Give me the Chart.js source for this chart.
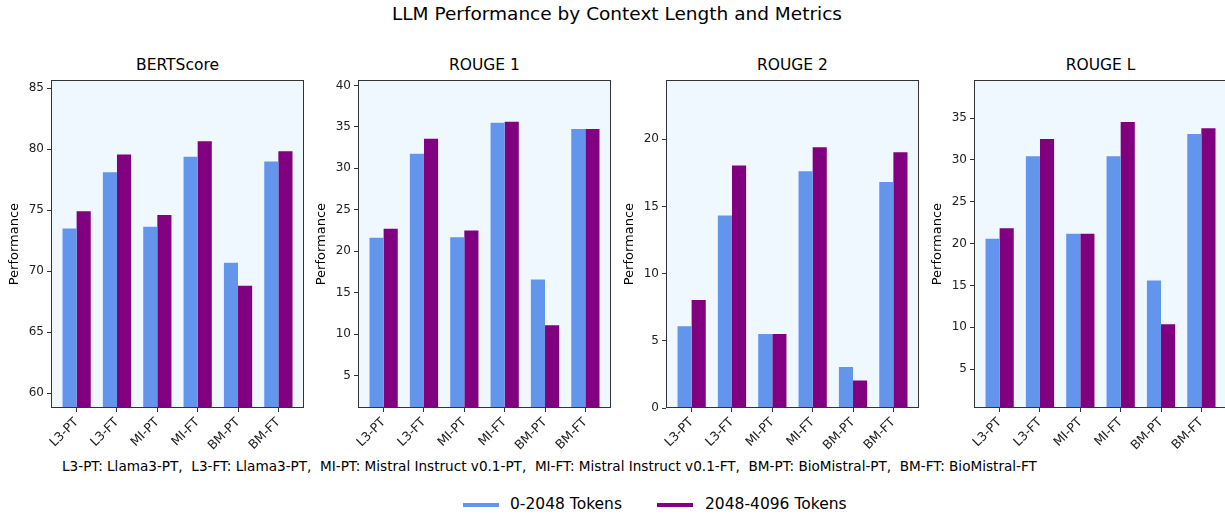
<!DOCTYPE html>
<html>
<head>
<meta charset="utf-8">
<script src="https://cdn.jsdelivr.net/npm/chart.js"></script>
<style>
  body { margin: 0; background: #fff; font-family: "DejaVu Sans", sans-serif; }
  #fig { position: relative; width: 1225px; height: 516px; overflow: hidden; background: #fff; }
  .txt { position: absolute; white-space: pre; color: #000; }
  canvas { position: absolute; }
  .swatch { position: absolute; height: 4px; }
</style>
</head>
<body>
<div id="fig">
  <div class="txt" id="suptitle" style="left:0;width:1234px;text-align:center;top:3px;font-size:18.5px;">LLM Performance by Context Length and Metrics</div>
  <div class="txt" id="footnote" style="left:62px;top:458px;font-size:13.6px;"></div>
  <div class="swatch" style="left:463px;top:503px;width:36px;background:#6495ED;"></div>
  <div class="txt" id="leg0" style="left:510px;top:495px;font-size:15.5px;"></div>
  <div class="swatch" style="left:657px;top:503px;width:36px;background:#800080;"></div>
  <div class="txt" id="leg1" style="left:705px;top:495px;font-size:15.5px;"></div>
</div>
<script>
const categories = ['L3-PT', 'L3-FT', 'MI-PT', 'MI-FT', 'BM-PT', 'BM-FT'];
const seriesNames = ['0-2048 Tokens', '2048-4096 Tokens'];
const metricNames = ['BERTScore', 'ROUGE 1', 'ROUGE 2', 'ROUGE L'];

// values
const bertShort   = [73.5, 78.1, 73.65, 79.37, 70.69, 78.98];
const bertLong    = [74.9, 79.55, 74.6, 80.64, 68.8, 79.83];
const rouge1Short = [21.64, 31.76, 21.7, 35.52, 16.6, 34.76];
const rouge1Long  = [22.72, 33.56, 22.5, 35.64, 11.08, 34.76];
const rouge2Short = [6.08, 14.33, 5.51, 17.63, 3.05, 16.82];
const rouge2Long  = [8.03, 18.05, 5.51, 19.4, 2.04, 19.03];
const rougeLShort = [20.57, 30.44, 21.17, 30.44, 15.58, 33.1];
const rougeLLong  = [21.84, 32.5, 21.17, 34.52, 10.35, 33.77];

const footnote = 'L3-PT: Llama3-PT,  L3-FT: Llama3-PT,  MI-PT: Mistral Instruct v0.1-PT,  MI-FT: Mistral Instruct v0.1-FT,  BM-PT: BioMistral-PT,  BM-FT: BioMistral-FT';

const shortSets = [bertShort, rouge1Short, rouge2Short, rougeLShort];
const longSets = [bertLong, rouge1Long, rouge2Long, rougeLLong];

const BLUE = '#6495ED';
const PURPLE = '#800080';
const PLOT_BG = '#F0F8FF';
const PLOT_TOP = 78, PLOT_BOTTOM = 408;
const plotX = [[51, 304], [358, 611], [666, 919], [974, 1227]];
const Y_AXIS_W = 52, CANVAS_TOP = 70, CANVAS_BOTTOM = 470;

document.getElementById('footnote').textContent = footnote;
document.getElementById('leg0').textContent = seriesNames[0];
document.getElementById('leg1').textContent = seriesNames[1];

const fig = document.getElementById('fig');

// background + frame round the plot area, like matplotlib axes
const framePlugin = {
  id: 'frame',
  beforeDraw(chart) {
    const a = chart.chartArea, c = chart.ctx;
    c.save();
    c.fillStyle = PLOT_BG;
    c.fillRect(a.left, a.top, a.right - a.left, a.bottom - a.top);
    c.restore();
  },
  afterDraw(chart) {
    const a = chart.chartArea, c = chart.ctx;
    c.save();
    c.strokeStyle = '#333';
    c.lineWidth = 1;
    c.strokeRect(Math.round(a.left) + 0.5, Math.round(a.top) + 0.5,
                 Math.round(a.right - a.left) - 1, Math.round(a.bottom - a.top) - 1);
    c.restore();
  }
};

function fives(min, max) {
  const out = [];
  for (let v = Math.ceil(min / 5) * 5; v <= max + 1e-9; v += 5) out.push({ value: v });
  return out;
}

metricNames.forEach((name, k) => {
  const [L, R] = plotX[k];
  const w = (R - L) + Y_AXIS_W + 2;
  const h = CANVAS_BOTTOM - CANVAS_TOP;

  const t = document.createElement('div');
  t.className = 'txt';
  t.textContent = name;
  t.style.cssText = `left:${L}px;width:${R - L}px;text-align:center;top:56px;font-size:15.5px;`;
  fig.appendChild(t);

  const cv = document.createElement('canvas');
  cv.width = w; cv.height = h;
  cv.style.left = (L - Y_AXIS_W) + 'px';
  cv.style.top = CANVAS_TOP + 'px';
  fig.appendChild(cv);

  const all = shortSets[k].concat(longSets[k]);
  const yMin = Math.max(0, Math.min(...all) - 10);
  const yMax = Math.max(...all) + 5;

  new Chart(cv.getContext('2d'), {
    type: 'bar',
    data: {
      datasets: [
        { label: seriesNames[0], data: shortSets[k].map((v, i) => ({ x: i, y: v })),
          backgroundColor: BLUE, borderWidth: 0 },
        { label: seriesNames[1], data: longSets[k].map((v, i) => ({ x: i, y: v })),
          backgroundColor: PURPLE, borderWidth: 0 }
      ]
    },
    options: {
      responsive: false,
      animation: false,
      devicePixelRatio: 1,
      categoryPercentage: 0.7,
      barPercentage: 1.0,
      layout: { padding: { left: 0, right: 2, top: PLOT_TOP - CANVAS_TOP, bottom: 0 } },
      plugins: { legend: { display: false }, tooltip: { enabled: false } },
      scales: {
        x: {
          type: 'linear',
          min: -0.635, max: 5.635,
          offset: false,
          afterBuildTicks: s => { s.ticks = categories.map((_, i) => ({ value: i })); },
          afterFit: s => { s.height = CANVAS_BOTTOM - PLOT_BOTTOM; },
          grid: { display: true, drawOnChartArea: false, drawTicks: true, tickLength: 4, color: '#333', offset: false },
          border: { display: false },
          ticks: {
            maxRotation: 45, minRotation: 45, autoSkip: false, padding: 3,
            color: '#222', font: { family: 'DejaVu Sans', size: 12.5 },
            callback: v => categories[v]
          }
        },
        y: {
          min: yMin, max: yMax,
          afterBuildTicks: s => { s.ticks = fives(yMin, yMax); },
          afterFit: s => { s.width = Y_AXIS_W; },
          grid: { display: true, drawOnChartArea: false, drawTicks: true, tickLength: 4, color: '#333' },
          border: { display: false },
          ticks: { padding: 3, color: '#222', font: { family: 'DejaVu Sans', size: 12 } },
          title: { display: true, text: 'Performance', color: '#000',
                   font: { family: 'DejaVu Sans', size: 13 }, padding: { top: 8, bottom: 0 } }
        }
      }
    },
    plugins: [framePlugin]
  });
});
</script>
</body>
</html>
